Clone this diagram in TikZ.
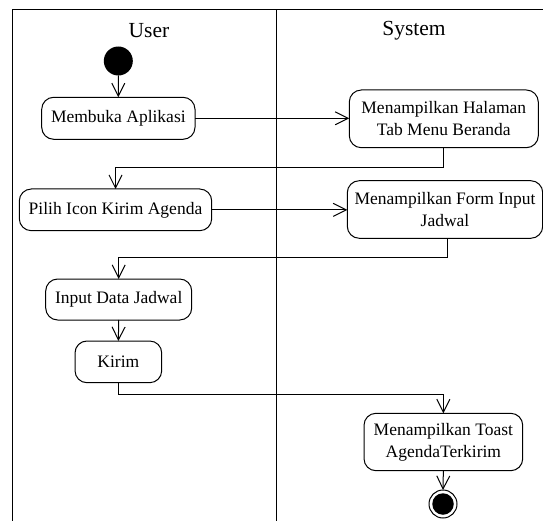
\documentclass[tikz,border=0pt]{standalone}
\usepackage{fontspec}
\setmainfont{Liberation Serif}
\usetikzlibrary{arrows.meta}

\tikzset{
  lane/.style={line width=1pt},
  act/.style={draw, line width=1pt, rounded corners=12pt, fill=white,
    inner sep=0pt, outer sep=0pt, align=center,
    font=\fontsize{17.5}{21.7}\selectfont},
  flow/.style={line width=1pt, -{Straight Barb[length=13pt,width=13pt]}},
  link/.style={line width=1pt},
  lanetitle/.style={font=\fontsize{21.5}{24}\selectfont, inner sep=0pt}
}

\begin{document}
\begin{tikzpicture}[x=1pt, y=-1pt]
  \useasboundingbox (0,0) rectangle (543,521);

  % swimlane frame
  \draw[lane] (12.7,521) -- (12.7,9.3) -- (543,9.3);
  \draw[lane] (276,9.3) -- (276,521);
  \node[lanetitle] (tuser) at (149,31) {User};
  \node[lanetitle] (tsys) at (414,31) {System};

  % initial and final states
  \node[circle, fill=black, minimum size=29pt, inner sep=0pt, outer sep=0pt] (start) at (118.3,61) {};
  \node[circle, draw, line width=1pt, fill=white, minimum size=28pt, inner sep=0pt, outer sep=0pt] (end) at (443,504) {};
  \node[circle, fill=black, minimum size=21.5pt, inner sep=0pt] (endcore) at (end.center) {};

  % activities
  \node[act, minimum width=153.3pt, minimum height=42pt] (buka) at (118.35,118.3) {Membuka Aplikasi};
  \node[act, minimum width=189pt, minimum height=57.7pt] (beranda) at (443.8,118.85) {Menampilkan Halaman\\Tab Menu Beranda};
  \node[act, minimum width=192.4pt, minimum height=41.7pt] (pilih) at (115.5,209.85) {Pilih Icon Kirim Agenda};
  \node[act, minimum width=195.4pt, minimum height=57.6pt] (form) at (445,209.5) {Menampilkan Form Input\\Jadwal};
  \node[act, minimum width=146pt, minimum height=41pt] (input) at (118.7,299.5) {Input Data Jadwal};
  \node[act, minimum width=86.7pt, minimum height=41.7pt] (kirim) at (118.35,361.85) {Kirim};
  \node[act, minimum width=158.7pt, minimum height=57.4pt] (toast) at (443.35,442) {Menampilkan Toast\\AgendaTerkirim};

  % bend points of the routed flows
  \coordinate (b1) at (443.8,167.3);
  \coordinate (b2) at (447.7,257.3);
  \coordinate (b3) at (118.35,394.3);

  % control flows
  \draw[flow] (start) -- (buka);
  \draw[flow] (buka.east) -- (beranda.west |- buka.east);
  \draw[flow] (beranda.south) -- (b1) -| (pilih.north);
  \draw[flow] (pilih.east) -- (form.west |- pilih.east);
  \draw[flow] (form.south -| b2) -- (b2) -| (input.north);
  \draw[flow] (input.south) -- (kirim.north);
  \draw[flow] (kirim.south) -- (b3) -| (toast.north);
  \draw[flow] (toast.south) -- (end.north);
\end{tikzpicture}
\end{document}
